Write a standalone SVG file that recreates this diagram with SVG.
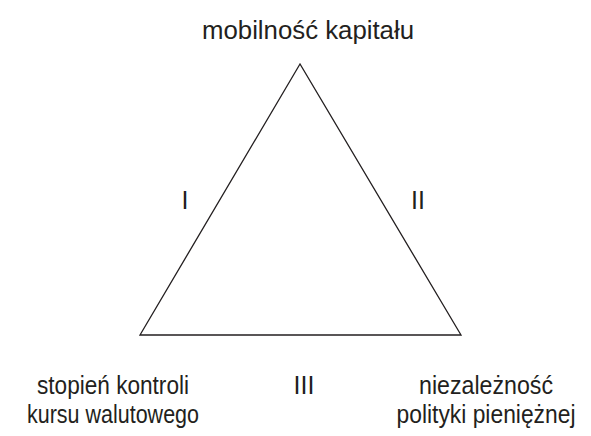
<svg xmlns="http://www.w3.org/2000/svg" width="591" height="436" viewBox="0 0 591 436">
<style>
text{font-family:"Liberation Sans",Arial,sans-serif;font-size:25px;fill:#231f20;text-anchor:middle}
.edge{fill:none;stroke:#231f20;stroke-width:1.3;stroke-linejoin:miter}
</style>
<rect width="591" height="436" fill="#fff"/>
<g id="connectors">
<polygon class="edge" points="300,64 140,335 461,335"/>
</g>
<g id="top"><text x="308" y="39" textLength="212" lengthAdjust="spacingAndGlyphs">mobilność kapitału</text></g>
<g id="left"><text x="113" y="394" textLength="152" lengthAdjust="spacingAndGlyphs">stopień kontroli</text><text x="113" y="423" textLength="172" lengthAdjust="spacingAndGlyphs">kursu walutowego</text></g>
<g id="right"><text x="486" y="394" textLength="134" lengthAdjust="spacingAndGlyphs">niezależność</text><text x="486" y="423" textLength="179" lengthAdjust="spacingAndGlyphs">polityki pieniężnej</text></g>
<g id="label-I"><text x="185" y="209">I</text></g>
<g id="label-II"><text x="418" y="209">II</text></g>
<g id="label-III"><text x="304" y="394">III</text></g>
</svg>
